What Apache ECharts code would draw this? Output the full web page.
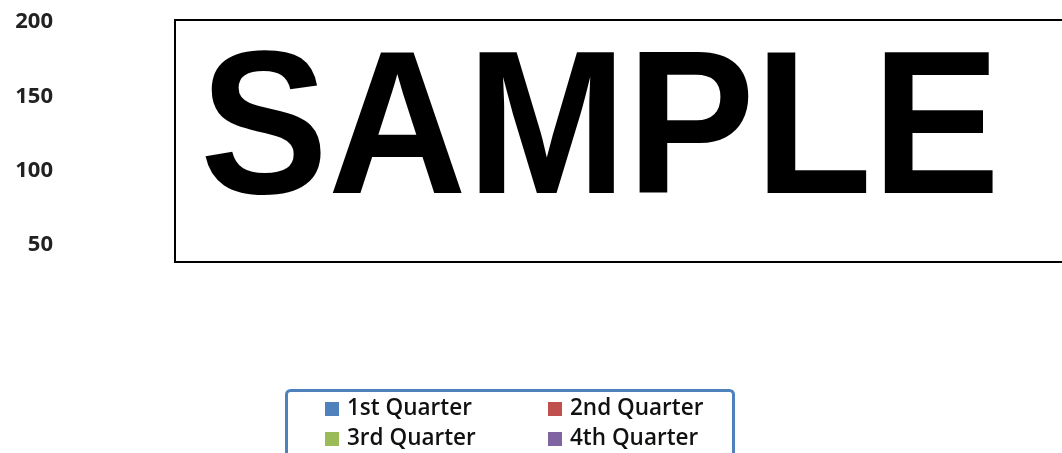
<!DOCTYPE html>
<html>
<head>
<meta charset="utf-8">
<script src="https://cdn.jsdelivr.net/npm/echarts@6/dist/echarts.min.js"></script>
<style>
html,body{margin:0;padding:0;background:#fff;}
#chart{width:1062px;height:453px;}
</style>
</head>
<body>
<div id="chart"></div>
<script>
// Data (no bars are visible in the reference; only axis ticks and legend remain)
var categories = [];
var seriesNames = ['1st Quarter', '2nd Quarter', '3rd Quarter', '4th Quarter'];
var q1 = [];
var q2 = [];
var q3 = [];
var q4 = [];
var yTicks = [0, 50, 100, 150, 200];
var watermarkText = 'SAMPLE';

var colors = ['#4F81BD', '#C0504D', '#9BBB59', '#8064A2'];
var seriesData = [q1, q2, q3, q4];

var chart = echarts.init(document.getElementById('chart'), null, {renderer: 'canvas'});

var legendPos = [
  {left: 325, top: 397},
  {left: 548, top: 397},
  {left: 325, top: 427},
  {left: 548, top: 427}
];

function makeLegend(i) {
  return {
    orient: 'horizontal',
    left: legendPos[i].left,
    top: legendPos[i].top,
    itemWidth: 14,
    itemHeight: 14,
    icon: 'rect',
    selectedMode: false,
    padding: 0,
    data: [seriesNames[i]],
    textStyle: {
      fontFamily: 'Open Sans',
      fontWeight: 600,
      fontSize: 22.5,
      lineHeight: 24,
      color: '#111',
      padding: [0, 0, 0, 3]
    }
  };
}

var option = {
  backgroundColor: '#ffffff',
  animation: false,
  color: colors,
  grid: {left: 61, right: 0, top: 22, bottom: 134, containLabel: false},
  xAxis: {
    type: 'category',
    data: categories,
    show: false
  },
  yAxis: {
    type: 'value',
    min: yTicks[0],
    max: yTicks[yTicks.length - 1],
    interval: 50,
    axisLine: {show: false},
    axisTick: {show: false},
    splitLine: {show: false},
    axisLabel: {
      showMinLabel: false,
      margin: 8,
      fontFamily: 'Open Sans',
      fontWeight: 'bold',
      fontSize: 22,
      color: '#222'
    }
  },
  legend: [makeLegend(0), makeLegend(1), makeLegend(2), makeLegend(3)],
  graphic: [
    {
      type: 'rect',
      z: 10,
      shape: {x: 175, y: 20, width: 920, height: 242},
      style: {fill: '#ffffff', stroke: '#000000', lineWidth: 2}
    },
    {
      type: 'text',
      z: 11,
      x: 600,
      y: 137,
      scaleY: 1.06,
      style: {
        text: watermarkText,
        font: 'bold 192px "Liberation Sans", Arial, sans-serif',
        fill: '#000000',
        align: 'center',
        verticalAlign: 'middle'
      }
    },
    {
      type: 'rect',
      z: 10,
      shape: {x: 286.5, y: 390.5, width: 447, height: 80, r: 4},
      style: {fill: 'none', stroke: '#4F81BD', lineWidth: 3}
    }
  ],
  series: seriesNames.map(function (n, i) {
    return {name: n, type: 'bar', data: seriesData[i]};
  })
};

chart.setOption(option);
</script>
</body>
</html>
